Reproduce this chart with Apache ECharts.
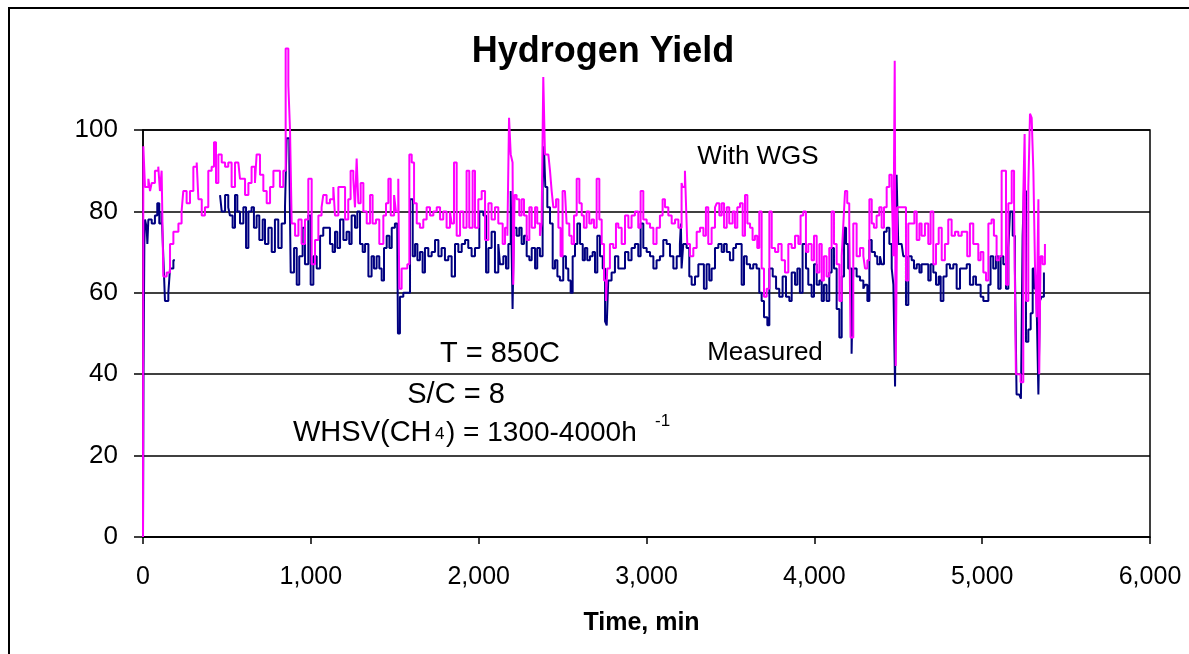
<!DOCTYPE html>
<html>
<head>
<meta charset="utf-8">
<title>Hydrogen Yield</title>
<script src="https://cdn.jsdelivr.net/npm/echarts@6/dist/echarts.min.js"></script>
<style>
  html, body { margin: 0; padding: 0; background: #fff; }
  #main { width: 1189px; height: 654px; }
</style>
</head>
<body>
<div id="main"></div>
<script>
// [time (min), yield]; '-' = no data (line break)
var withWgs = [
  [0,0],[2,96],[12,86],[32,88],[42,85],[52,87],[71,90],[91,91],[101,85],[111,90],[121,64],[141,65],[161,72],[181,75],[211,77],[230,80],[240,85],[260,82],[280,85],[300,91],[320,92],[330,83],[350,79],[369,81],[389,90],[409,91],[423,97],[435,87],[449,94],[469,92],[489,91],[508,92],[528,86],[548,92],[568,92],[578,88],[588,88],[608,84],[628,87],[647,91],[667,87],[677,94],[697,89],[717,85],[737,82],[757,86],[777,90],[796,90],[816,86],[836,90],[850,120],[866,111],[876,100],[886,77],[906,74],[926,78],[945,72],[965,78],[985,88],[1005,67],[1025,73],[1045,79],[1064,81],
  [1074,84],[1094,82],[1114,83],[1134,86],[1144,79],[1164,86],[1184,86],[1204,78],[1223,83],[1237,90],[1253,88],[1263,81],[1273,93],[1283,82],[1297,87],[1313,80],[1333,77],[1353,84],[1368,77],[1388,78],[1408,72],[1432,79],[1448,82],[1462,88],[1476,79],[1496,84],[1507,80],[1521,88],[1527,61],[1541,66],[1561,66],[1575,67],[1587,94],[1601,92],[1615,82],[1631,77],[1650,76],[1670,78],[1690,81],[1710,79],[1730,80],[1750,81],[1770,78],[1789,80],[1809,76],[1829,80],[1839,77],[1853,92],[1869,74],[1889,80],[1909,76],[1928,90],[1944,76],[1964,90],[1978,76],[1998,83],[2018,85],[2038,73],[2058,82],[2077,78],[2097,81],[2117,77],
  [2127,77],[2143,72],[2157,76],[2171,74],[2181,103],[2191,94],[2202,92],[2206,62],[2214,84],[2226,83],[2242,79],[2256,83],[2270,79],[2286,73],[2302,81],[2316,76],[2336,81],[2349,77],[2365,74],[2375,77],[2385,113],[2395,94],[2415,94],[2425,90],[2435,85],[2445,81],[2461,83],[2475,76],[2488,69],[2500,85],[2514,85],[2524,77],[2540,74],[2554,72],[2568,79],[2584,88],[2600,82],[2614,79],[2627,76],[2643,80],[2659,77],[2673,78],[2687,76],[2703,88],[2719,78],[2733,72],[2747,63],[2759,58],[2766,66],[2782,72],[2802,71],[2818,77],[2832,76],[2852,72],[2872,79],[2892,76],[2911,79],[2931,80],[2951,76],[2965,85],[2981,78],[3001,77],[3021,76],[3041,72],[3060,76],[3080,79],[3096,83],[3110,81],[3130,79],[3150,77],[3170,78],[3190,76],[3209,87],
  [3215,86],[3229,90],[3239,90],[3243,72],[3259,69],[3279,71],[3299,75],[3319,76],[3339,74],[3354,81],[3368,72],[3388,76],[3408,81],[3418,82],[3434,79],[3448,82],[3462,76],[3478,81],[3493,77],[3513,80],[3527,76],[3541,81],[3557,82],[3573,74],[3587,84],[3601,77],[3617,76],[3632,73],[3646,74],[3660,71],[3672,80],[3686,66],[3700,59],[3716,61],[3732,80],[3746,71],[3766,70],[3785,72],[3805,68],[3825,65],[3845,72],[3865,71],[3885,74],[3905,72],[3918,79],[3934,80],[3950,70],[3964,72],[3984,68],[3998,74],[4014,65],[4030,72],[4044,63],[4057,69],[4073,64],[4089,71],[4103,80],[4117,72],[4133,67],[4149,58],[4163,69],[4173,77],[4183,85],[4196,82],[4208,77],[4216,49],[4232,77],[4252,69],[4272,71],[4292,69],
  [4302,66],[4316,68],[4328,83],[4342,77],[4355,76],[4371,79],[4387,81],[4401,76],[4415,81],[4431,86],[4447,89],[4461,86],[4471,69],[4479,117],[4485,42],[4494,81],[4510,81],[4530,81],[4546,63],[4560,77],[4580,77],[4596,80],[4610,73],[4626,77],[4639,74],[4659,77],[4679,72],[4693,80],[4709,67],[4725,72],[4741,76],[4759,68],[4778,72],[4798,78],[4818,74],[4838,75],[4858,74],[4878,75],[4898,75],[4911,69],[4927,77],[4947,72],[4963,72],[4977,68],[4991,70],[5007,65],[5023,63],[5037,77],[5056,78],[5070,74],[5086,68],[5102,69],[5116,90],[5130,90],[5142,62],[5156,82],[5176,90],[5190,82],[5201,40],[5215,40],[5229,38],[5245,84],[5253,99],[5261,58],[5275,86],[5285,104],[5295,103],[5305,90],[5315,66],[5325,54],[5335,83],[5340,40],[5348,69],[5360,67],[5374,72]
];

var measured = [
  [0,0],[3,40],[8,72],[12,78],[22,76],[26,72],[32,78],[52,77],[71,79],[85,82],[97,77],[111,80],[121,69],[131,58],[151,60],[161,66],[181,68],[190,'-'],[459,84],[469,80],[489,84],[508,81],[518,79],[534,76],[548,84],[562,80],[578,77],[598,81],[614,71],[628,80],[647,81],[661,76],[677,79],[693,73],[713,78],[727,72],[747,76],[767,70],[786,78],[806,71],[826,77],[846,81],[856,98],[872,92],[880,65],[900,71],[916,62],[931,69],[951,76],[965,67],[985,79],[999,62],[1015,69],[1035,66],[1055,74],[1074,76],
  [1094,76],[1114,72],[1130,70],[1144,75],[1158,71],[1174,78],[1194,73],[1213,75],[1229,72],[1243,79],[1263,76],[1277,80],[1293,72],[1309,70],[1323,72],[1343,64],[1362,69],[1376,66],[1392,69],[1408,66],[1422,63],[1436,71],[1452,74],[1468,71],[1482,76],[1501,77],[1515,75],[1519,50],[1531,59],[1551,60],[1575,60],[1591,83],[1607,69],[1621,72],[1635,68],[1650,70],[1666,65],[1680,71],[1700,69],[1720,70],[1740,73],[1760,69],[1779,71],[1799,68],[1819,69],[1839,64],[1859,72],[1879,70],[1899,72],[1919,73],[1938,71],[1958,69],[1978,71],[2004,80],[2028,79],[2044,65],[2058,71],[2077,75],[2097,65],[2117,72],
  [2127,67],[2147,69],[2163,66],[2177,72],[2191,85],[2202,56],[2210,76],[2226,74],[2242,76],[2256,72],[2270,74],[2286,69],[2302,68],[2316,71],[2336,66],[2349,71],[2365,69],[2381,86],[2389,96],[2397,86],[2409,81],[2425,77],[2441,66],[2455,68],[2469,64],[2484,63],[2504,69],[2520,66],[2534,63],[2548,60],[2560,69],[2574,72],[2588,77],[2604,72],[2620,68],[2633,71],[2647,68],[2663,69],[2679,70],[2693,65],[2707,74],[2723,69],[2739,66],[2753,53],[2763,52],[2772,63],[2792,65],[2812,69],[2832,66],[2852,66],[2872,70],[2892,68],[2911,71],[2931,72],[2951,69],[2965,77],[2981,71],[3001,70],[3021,69],[3041,66],[3060,68],[3080,69],[3100,73],[3120,72],[3140,69],[3160,66],[3180,69],[3199,72],
  [3205,77],[3209,66],[3219,72],[3239,71],[3255,64],[3269,62],[3289,64],[3309,67],[3329,67],[3342,61],[3358,67],[3374,63],[3388,66],[3408,71],[3428,72],[3448,70],[3462,72],[3478,70],[3497,68],[3517,71],[3533,72],[3553,72],[3567,62],[3581,69],[3597,67],[3617,66],[3636,67],[3656,66],[3672,60],[3686,58],[3700,54],[3720,52],[3732,66],[3752,64],[3772,61],[3791,59],[3811,64],[3831,59],[3851,58],[3865,65],[3885,62],[3899,66],[3914,60],[3930,72],[3950,66],[3964,62],[3984,59],[3998,67],[4014,62],[4030,63],[4044,58],[4057,62],[4073,58],[4089,65],[4103,71],[4117,66],[4133,56],[4149,49],[4163,64],[4177,76],[4189,72],[4202,66],[4222,45],[4232,66],[4252,64],[4272,63],[4292,61],
  [4302,62],[4316,58],[4328,73],[4342,70],[4361,69],[4375,67],[4391,69],[4401,67],[4415,75],[4431,76],[4447,72],[4461,66],[4471,62],[4481,37],[4490,89],[4500,72],[4520,72],[4530,69],[4546,57],[4560,69],[4580,68],[4594,66],[4610,67],[4626,65],[4639,67],[4659,67],[4679,63],[4693,67],[4709,65],[4725,62],[4741,64],[4753,58],[4769,64],[4788,67],[4808,66],[4828,67],[4848,61],[4868,66],[4888,66],[4908,67],[4927,62],[4947,64],[4963,62],[4977,62],[4991,59],[5007,58],[5023,58],[5037,62],[5050,69],[5066,66],[5082,69],[5096,61],[5110,69],[5126,67],[5142,61],[5156,71],[5166,80],[5182,74],[5195,66],[5205,35],[5221,35],[5231,34],[5241,74],[5249,85],[5261,48],[5275,51],[5289,55],[5301,66],[5313,61],[5325,56],[5335,35],[5344,58],[5354,59],[5368,65]
];

var FONT = '"Liberation Sans", Arial, sans-serif';

var chart = echarts.init(document.getElementById('main'));

chart.setOption({
  animation: false,
  backgroundColor: '#fff',
  grid: {
    left: 143, right: 39, top: 130, bottom: 117,
    show: true, borderColor: '#000', borderWidth: 1.5, backgroundColor: 'transparent'
  },
  xAxis: {
    type: 'value',
    min: 0, max: 6000, interval: 1000,
    name: 'Time, min',
    nameLocation: 'middle',
    nameGap: 74,
    nameTextStyle: { fontFamily: FONT, fontSize: 25, fontWeight: 'bold', color: '#000', padding: [0, 10, 0, 0] },
    axisLine: { lineStyle: { color: '#000', width: 1.5 } },
    axisTick: { inside: false, length: 7, lineStyle: { color: '#000', width: 1.5 } },
    axisLabel: {
      fontFamily: FONT, fontSize: 25, color: '#000', margin: 28,
      formatter: function (v) { return v.toLocaleString('en-US'); }
    },
    splitLine: { show: false }
  },
  yAxis: {
    type: 'value',
    min: 0, max: 100, interval: 20,
    axisLine: { show: true, lineStyle: { color: '#000', width: 1.5 } },
    axisTick: { show: true, inside: false, length: 9, lineStyle: { color: '#000', width: 1.5 } },
    axisLabel: { fontFamily: FONT, fontSize: 26, color: '#000', margin: 25 },
    splitLine: { show: true, lineStyle: { color: '#000', width: 1.5 } }
  },
  series: [
    {
      name: 'Measured',
      type: 'line',
      data: measured,
      step: 'end',
      showSymbol: false,
      clip: false,
      connectNulls: false,
      lineStyle: { color: '#000080', width: 2 },
      itemStyle: { color: '#000080' }
    },
    {
      name: 'With WGS',
      type: 'line',
      data: withWgs,
      step: 'end',
      showSymbol: false,
      clip: false,
      lineStyle: { color: '#ff00ff', width: 2 },
      itemStyle: { color: '#ff00ff' }
    }
  ],
  graphic: [
    { type: 'rect', silent: true, z: 100, shape: { x: 9, y: 8, width: 1250, height: 720 },
      style: { fill: 'transparent', stroke: '#000', lineWidth: 2 } },
    { type: 'text', x: 603, y: 52, z: 100,
      style: { text: 'Hydrogen Yield', fontFamily: FONT, fontSize: 36, fontWeight: 'bold', fill: '#000', align: 'center', verticalAlign: 'middle' } },
    { type: 'text', x: 758, y: 157, z: 100,
      style: { text: 'With WGS', fontFamily: FONT, fontSize: 26, fill: '#000', align: 'center', verticalAlign: 'middle' } },
    { type: 'text', x: 765, y: 353, z: 100,
      style: { text: 'Measured', fontFamily: FONT, fontSize: 26, fill: '#000', align: 'center', verticalAlign: 'middle' } },
    { type: 'text', x: 500, y: 354, z: 100,
      style: { text: 'T = 850C', fontFamily: FONT, fontSize: 29, fill: '#000', align: 'center', verticalAlign: 'middle' } },
    { type: 'text', x: 456, y: 395, z: 100,
      style: { text: 'S/C = 8', fontFamily: FONT, fontSize: 29, fill: '#000', align: 'center', verticalAlign: 'middle' } },
    { type: 'text', x: 293, y: 433, z: 100,
      style: { text: 'WHSV(CH', fontFamily: FONT, fontSize: 29, fill: '#000', align: 'left', verticalAlign: 'middle' } },
    { type: 'text', x: 435, y: 434, z: 100,
      style: { text: '4', fontFamily: FONT, fontSize: 17, fill: '#000', align: 'left', verticalAlign: 'middle' } },
    { type: 'text', x: 446, y: 433, z: 100,
      style: { text: ') = 1300-4000h', fontFamily: FONT, fontSize: 28, fill: '#000', align: 'left', verticalAlign: 'middle' } },
    { type: 'text', x: 655, y: 421, z: 100,
      style: { text: '-1', fontFamily: FONT, fontSize: 17, fill: '#000', align: 'left', verticalAlign: 'middle' } }
  ]
});
</script>
</body>
</html>
